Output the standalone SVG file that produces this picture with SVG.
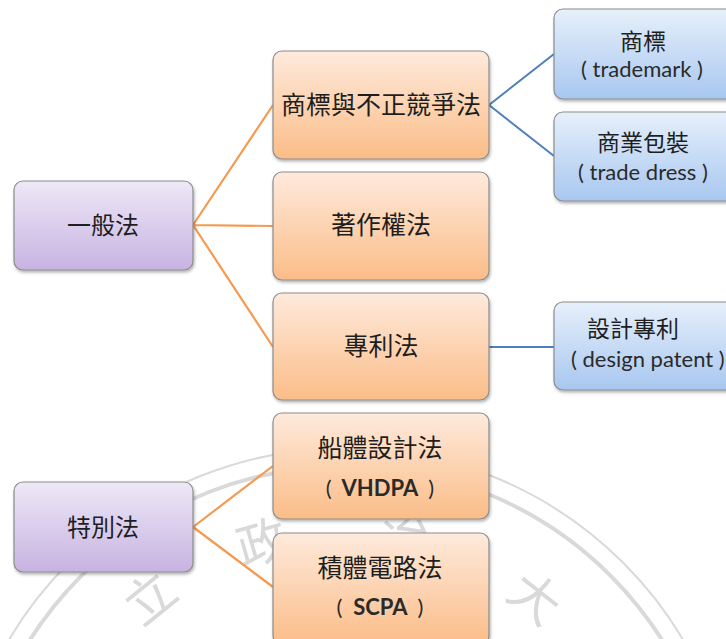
<svg xmlns="http://www.w3.org/2000/svg" width="726" height="639" viewBox="0 0 726 639">
<defs>
<linearGradient id="gOrange" x1="0" y1="0" x2="0" y2="1"><stop offset="0" stop-color="#FEEADC"/><stop offset="1" stop-color="#FBBD88"/></linearGradient>
<linearGradient id="gPurple" x1="0" y1="0" x2="0" y2="1"><stop offset="0" stop-color="#EEE8F6"/><stop offset="1" stop-color="#C7B3E2"/></linearGradient>
<linearGradient id="gBlue" x1="0" y1="0" x2="0" y2="1"><stop offset="0" stop-color="#E6F0FB"/><stop offset="1" stop-color="#A8C7F0"/></linearGradient>
<filter id="sh" x="-10%" y="-10%" width="130%" height="130%"><feDropShadow dx="1" dy="2" stdDeviation="1.5" flood-color="#000" flood-opacity="0.3"/></filter>
<style>
.box{stroke:#8C8C8C;stroke-width:1.2;filter:url(#sh)}
.o{fill:url(#gOrange)}
.p{fill:url(#gPurple)}
.b{fill:url(#gBlue)}
.cjk{font-family:"Noto Sans CJK TC","Noto Sans CJK SC",sans-serif;fill:#1E1E1E;text-anchor:middle}
.lat{font-family:Lato,"Open Sans","Noto Sans CJK TC",sans-serif;fill:#2A2A2A;text-anchor:middle}
.start{text-anchor:start}
.pn{font-weight:normal}
.co{stroke:#F59A52;stroke-width:2.2;fill:none}
.cb{stroke:#4F7FBC;stroke-width:2;fill:none}
.wm{fill:none;stroke:#D9D9D9}
.wt{font-family:"Noto Sans CJK TC",sans-serif;font-size:50px;fill:#D9D9D9;text-anchor:middle}
</style>
</defs>
<rect width="726" height="639" fill="#FFFFFF"/>
<g id="watermark">
<circle class="wm" cx="346" cy="840" r="392" stroke-width="2"/>
<circle class="wm" cx="346" cy="840" r="374" stroke-width="4"/>
<text class="wt" transform="translate(150,598) rotate(-39)" y="18">立</text>
<text class="wt" transform="translate(262,543) rotate(-16)" y="18">政</text>
<text class="wt" transform="translate(405,534) rotate(11)" y="18">治</text>
<text class="wt" transform="translate(535,598) rotate(38)" y="18">大</text>
</g>
<g id="connectors">
<path class="co" d="M193,225 L273,105 M193,225 L273,226 M193,225 L273,347"/>
<path class="co" d="M193,527 L273,466 M193,527 L273,587"/>
<path class="cb" d="M489,105 L554,54 M489,105 L554,156"/>
<path class="cb" d="M489,347 L554,347"/>
</g>
<g id="n-general">
<rect class="box p" x="14" y="181" width="179" height="89" rx="9"/>
<text class="cjk" x="103" y="234" font-size="24">一般法</text>
</g>
<g id="n-special">
<rect class="box p" x="14" y="482" width="179" height="90" rx="9"/>
<text class="cjk" x="103" y="536" font-size="24">特別法</text>
</g>
<g id="n-trademark-law">
<rect class="box o" x="273" y="51" width="216" height="108" rx="9"/>
<text class="cjk" x="381" y="114" font-size="25">商標與不正競爭法</text>
</g>
<g id="n-copyright">
<rect class="box o" x="273" y="172" width="216" height="108" rx="9"/>
<text class="cjk" x="381" y="234" font-size="25">著作權法</text>
</g>
<g id="n-patent">
<rect class="box o" x="273" y="293" width="216" height="107" rx="9"/>
<text class="cjk" x="381" y="355" font-size="25">專利法</text>
</g>
<g id="n-vhdpa">
<rect class="box o" x="273" y="413" width="216" height="106" rx="9"/>
<text class="cjk" x="380" y="457" font-size="25">船體設計法</text>
<text class="lat" x="380" y="496" font-size="22" font-weight="bold"><tspan class="pn">(</tspan>&#160;&#160;VHDPA&#160;&#160;<tspan class="pn">)</tspan></text>
</g>
<g id="n-scpa">
<rect class="box o" x="273" y="533" width="216" height="112" rx="9"/>
<text class="cjk" x="380" y="577" font-size="25">積體電路法</text>
<text class="lat" x="380" y="615" font-size="22" font-weight="bold"><tspan class="pn">(</tspan>&#160;&#160;SCPA&#160;&#160;<tspan class="pn">)</tspan></text>
</g>
<g id="n-tm">
<rect class="box b" x="554" y="9" width="182" height="90" rx="9"/>
<text class="cjk" x="643" y="50" font-size="23">商標</text>
<text class="lat" x="642" y="77" font-size="22">(&#160;trademark&#160;)</text>
</g>
<g id="n-tradedress">
<rect class="box b" x="554" y="112" width="182" height="89" rx="9"/>
<text class="cjk" x="643" y="151" font-size="23">商業包裝</text>
<text class="lat" x="643" y="180" font-size="22">(&#160;trade dress&#160;)</text>
</g>
<g id="n-design">
<rect class="box b" x="554" y="302" width="182" height="88" rx="9"/>
<text class="cjk" x="633" y="337" font-size="23">設計專利</text>
<text class="lat start" x="571" y="367" font-size="22">(&#160;design patent&#160;)</text>
</g>
</svg>
